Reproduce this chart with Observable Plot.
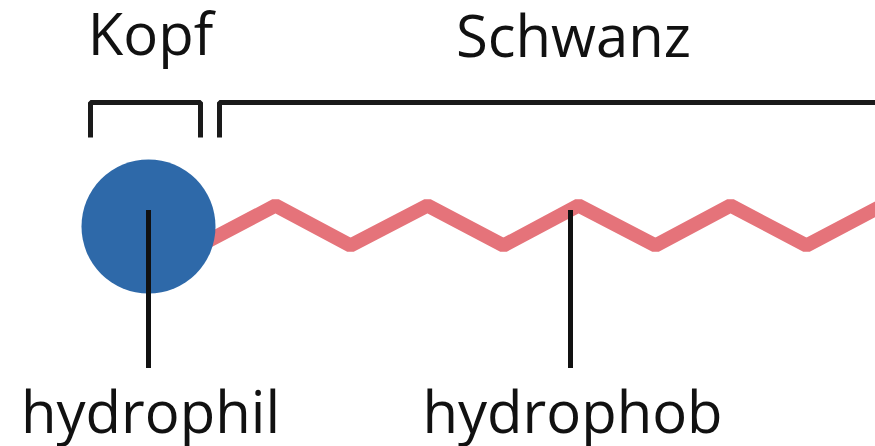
<!DOCTYPE html>
<html><head><meta charset="utf-8">
<script src="https://cdn.jsdelivr.net/npm/d3@7"></script>
<script src="https://cdn.jsdelivr.net/npm/@observablehq/plot@0.6"></script>
<style>
html,body{margin:0;padding:0;background:#fff;}
svg{display:block;}
</style>
</head><body>
<div id="chart"></div>
<script>
// Tail (zigzag) vertices
const tailX = [199, 275, 350, 427, 503, 578, 655, 730, 806, 882];
const tailY = [245, 205, 245, 205, 245, 205, 245, 205, 245, 205];
// Head (circle)
const headX = [148];
const headY = [226];
const headR = [67];
// Brackets
const kopfBracketX = [90, 90, 200, 200];
const kopfBracketY = [137, 102, 102, 137];
const schwanzBracketX = [219, 219, 880];
const schwanzBracketY = [137, 102, 102];
// Leader lines
const leaderX = [148, 570];
const leaderY1 = [210, 210];
const leaderY2 = [368, 368];
// Labels
const labelText = ["Kopf", "Schwanz", "hydrophil", "hydrophob"];
const labelX = [150, 573, 150, 572];
const labelY = [58, 60, 436, 436];

const tail = tailX.map((x, i) => ({x, y: tailY[i]}));
const head = headX.map((x, i) => ({x, y: headY[i], r: headR[i]}));
const kopf = kopfBracketX.map((x, i) => ({x, y: kopfBracketY[i]}));
const schwanz = schwanzBracketX.map((x, i) => ({x, y: schwanzBracketY[i]}));
const leaders = leaderX.map((x, i) => ({x, y1: leaderY1[i], y2: leaderY2[i]}));
const labels = labelText.map((t, i) => ({t, x: labelX[i], y: labelY[i]}));

const chart = Plot.plot({
  width: 875, height: 446,
  margin: 0,
  x: {domain: [0, 875], range: [0, 875], axis: null},
  y: {domain: [0, 446], range: [0, 446], axis: null},
  r: {type: "identity"},
  style: {fontFamily: "'Open Sans', sans-serif", background: "#fff"},
  marks: [
    Plot.line(tail, {x: "x", y: "y", stroke: "#e5737a", strokeWidth: 14, strokeLinejoin: "miter", strokeLinecap: "butt", clip: true}),
    Plot.dot(head, {x: "x", y: "y", r: "r", fill: "#2e69a9", stroke: "none"}),
    Plot.line(kopf, {x: "x", y: "y", stroke: "#1a1a1a", strokeWidth: 5, strokeLinejoin: "miter", strokeLinecap: "butt"}),
    Plot.line(schwanz, {x: "x", y: "y", stroke: "#1a1a1a", strokeWidth: 5, strokeLinejoin: "miter", strokeLinecap: "butt", clip: true}),
    Plot.ruleX(leaders, {x: "x", y1: "y1", y2: "y2", stroke: "#111", strokeWidth: 5}),
    Plot.text(labels, {x: "x", y: "y", text: "t", fontSize: 58, fill: "#111", lineAnchor: "bottom", textAnchor: "middle", dy: -4})
  ]
});
document.getElementById("chart").appendChild(chart);
</script>
</body></html>
